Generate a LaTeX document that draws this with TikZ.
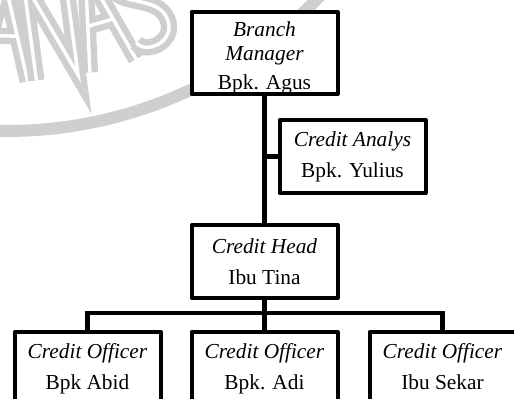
\documentclass[tikz,border=0pt]{standalone}
\usepackage{fontspec}
\setmainfont{Liberation Serif}
\usetikzlibrary{positioning, calc}
\definecolor{wmGray}{HTML}{CFCFCF}
\tikzset{
  boxOrg/.style={rectangle, draw=black, fill=white, line width=3pt, line join=round,
                 minimum width=109.5pt, minimum height=54.75pt, inner sep=0pt,
                 align=center, font=\fontsize{16}{23.3}\selectfont},
  lineOrg/.style={draw=black, line width=3.4pt},
  wmBand/.style={draw=wmGray, line width=9pt},
  wmLetter/.style={draw=wmGray, line width=4.8pt, double=white, double distance=2.6pt},
}

\begin{document}
\begin{tikzpicture}[x=0.75pt, y=0.75pt]
  \useasboundingbox (0,0) rectangle (514,399);
  \clip (0,0) rectangle (514,399);
  % watermark
  \draw[wmBand] (7,698) ++(-95:430) arc (-95:-35:430);
  \begin{scope}[shift={(7,698)}, rotate=-0.5]
    \draw[wmLetter] (-24,-380) -- (0,-280) -- (24,-380) (-12,-335) -- (12,-335);
  \end{scope}
  \begin{scope}[shift={(7,698)}, rotate=7.6]
    \draw[wmLetter] (-21,-380) -- (-21,-280) -- (21,-380) -- (21,-280);
  \end{scope}
  \begin{scope}[shift={(7,698)}, rotate=16.2]
    \draw[wmLetter] (-24,-380) -- (0,-280) -- (24,-380) (-12,-335) -- (12,-335);
  \end{scope}
  \begin{scope}[shift={(7,698)}, rotate=23.7]
    \draw[wmLetter] (19,-295) .. controls (10,-280) and (-19,-280) .. (-19,-305)
      .. controls (-19,-325) and (19,-330) .. (19,-355)
      .. controls (19,-380) and (-15,-380) .. (-19,-365);
  \end{scope}
  % boxes
  \node[boxOrg, minimum height=54pt, font=\fontsize{16}{18}\selectfont] (bm) at (264.5,346)
       {\rule{0pt}{18.6pt}\textit{Branch}\\\textit{Manager}\\[3.75pt]Bpk. Agus};
  \node[boxOrg] (ca) at (352.5,242.5) {\textit{Credit Analys}\\Bpk. Yulius};
  \node[boxOrg] (ch) at (264.5,137.5) {\textit{Credit Head}\\Ibu Tina};
  \node[boxOrg] (co2) at (264.5,30.5) {\textit{Credit Officer}\\Bpk. Adi};
  \node[boxOrg, left=20.25pt of co2] (co1) {\textit{Credit Officer}\\Bpk Abid};
  \node[boxOrg, right=21pt of co2] (co3) {\textit{Credit Officer}\\Ibu Sekar\vphantom{p}};
  % connectors
  \coordinate (jn) at (bm.south |- ca.west);
  \coordinate (bus) at (264.5,86);
  \draw[lineOrg] (bm.south) -- (ch.north);
  \draw[lineOrg] (jn) -- (ca.west);
  \draw[lineOrg] (ch.south) -- (co2.north);
  \draw[lineOrg] (co1.north) |- (bus) -| (co3.north);
\end{tikzpicture}
\end{document}
